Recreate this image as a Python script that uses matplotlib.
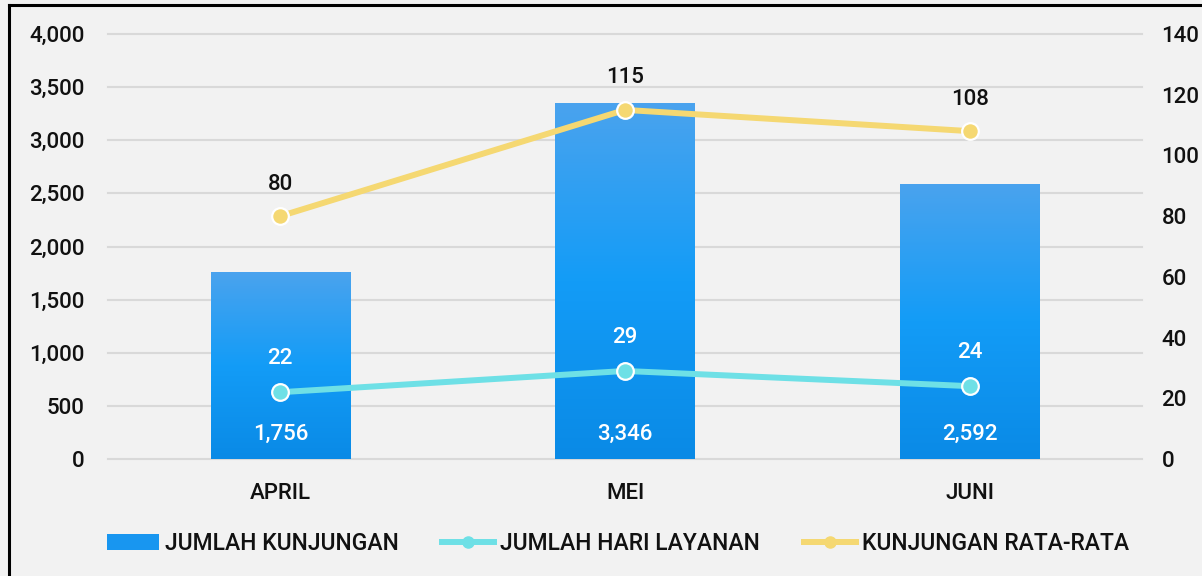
import numpy as np
import matplotlib.pyplot as plt
from matplotlib.colors import LinearSegmentedColormap
from matplotlib.lines import Line2D
from matplotlib.patches import Patch

# ---------- Data ----------
months = ["APRIL", "MEI", "JUNI"]
kunjungan = [1756, 3346, 2592]
hari_layanan = [22, 29, 24]
rata_rata = [80, 115, 108]

plt.rcParams["font.family"] = ["Roboto", "DejaVu Sans"]
plt.rcParams["font.weight"] = "medium"

BG = "#f2f2f2"
CYAN = "#6ee0e6"
YELLOW = "#f5d872"
FS = 16
grad = LinearSegmentedColormap.from_list("bar", ["#0a8ae6", "#139cf7", "#4aa3ee"])

fig = plt.figure(figsize=(12.02, 5.76), dpi=100, facecolor=BG)
ax = fig.add_axes([108 / 1202, 117 / 576, 1034 / 1202, 425 / 576])
ax.set_facecolor(BG)
ax2 = ax.twinx()

x = np.arange(len(months))
bars = ax.bar(x, kunjungan, width=0.405, color="none", zorder=2)
for b in bars:
    x0, y0 = b.get_x(), b.get_y()
    img = ax.imshow(np.linspace(0, 1, 256).reshape(-1, 1), cmap=grad, origin="lower",
                    extent=[x0, x0 + b.get_width(), y0, y0 + b.get_height()],
                    aspect="auto", zorder=2)
    img.set_clip_path(b)

ax.set_xlim(-0.5, 2.5)
ax.set_ylim(0, 4000)
ax.set_yticks(range(0, 4001, 500))
ax.set_yticklabels([f"{v:,}" for v in range(0, 4001, 500)])
ax.set_xticks(x)
ax.set_xticklabels(months)
ax.yaxis.grid(True, color="#d9d9d9", lw=1.5, zorder=0)
ax.set_axisbelow(True)
for gl in ax.yaxis.get_gridlines():
    gl.set_clip_on(False)

ax2.set_ylim(0, 140)
ax2.set_yticks(range(0, 141, 20))

for a in (ax, ax2):
    for s in a.spines.values():
        s.set_visible(False)
    a.tick_params(length=0, labelsize=FS, labelcolor="#111111")
ax.tick_params(axis="y", pad=17)
ax.tick_params(axis="x", pad=17)
ax2.tick_params(axis="y", pad=14)

for xi, v in zip(x, kunjungan):
    ax.annotate(f"{v:,}", (xi, 0), xytext=(0, 18), textcoords="offset points",
                ha="center", va="center", color="white", fontsize=FS, zorder=5)

mk = dict(marker="o", markersize=12, markeredgecolor="white", markeredgewidth=1.6)
ax2.plot(x, hari_layanan, color=CYAN, lw=4.3, zorder=3, **mk)
ax2.plot(x, rata_rata, color=YELLOW, lw=4.3, zorder=3, **mk)
for xi, v in zip(x, hari_layanan):
    ax2.annotate(str(v), (xi, v), xytext=(0, 24), textcoords="offset points",
                 ha="center", va="center", color="white", fontsize=FS)
for xi, v in zip(x, rata_rata):
    ax2.annotate(str(v), (xi, v), xytext=(0, 23), textcoords="offset points",
                 ha="center", va="center", color="#111111", fontsize=FS)

handles = [
    Patch(facecolor="#1896f0", edgecolor="none"),
    Line2D([], [], color=CYAN, lw=4.3, marker="o", markersize=8, markeredgecolor=CYAN),
    Line2D([], [], color=YELLOW, lw=4.3, marker="o", markersize=8, markeredgecolor=YELLOW),
]
labels = ["JUMLAH KUNJUNGAN", "JUMLAH HARI LAYANAN", "KUNJUNGAN RATA-RATA"]
fig.legend(handles, labels, loc="center", bbox_to_anchor=(0.514, 0.057), ncol=3,
           frameon=False, fontsize=16.5, handlelength=2.27, handletextpad=0.26,
           columnspacing=1.9, labelcolor="#111111")

# frame on left and top like the source image
fig.add_artist(Line2D([9 / 1202, 9 / 1202], [0, 571.5 / 576], transform=fig.transFigure,
                      color="black", lw=2.2))
fig.add_artist(Line2D([9 / 1202, 1], [571.5 / 576, 571.5 / 576], transform=fig.transFigure,
                      color="black", lw=2.2))

fig.savefig("out.png", dpi=100, facecolor=BG)
